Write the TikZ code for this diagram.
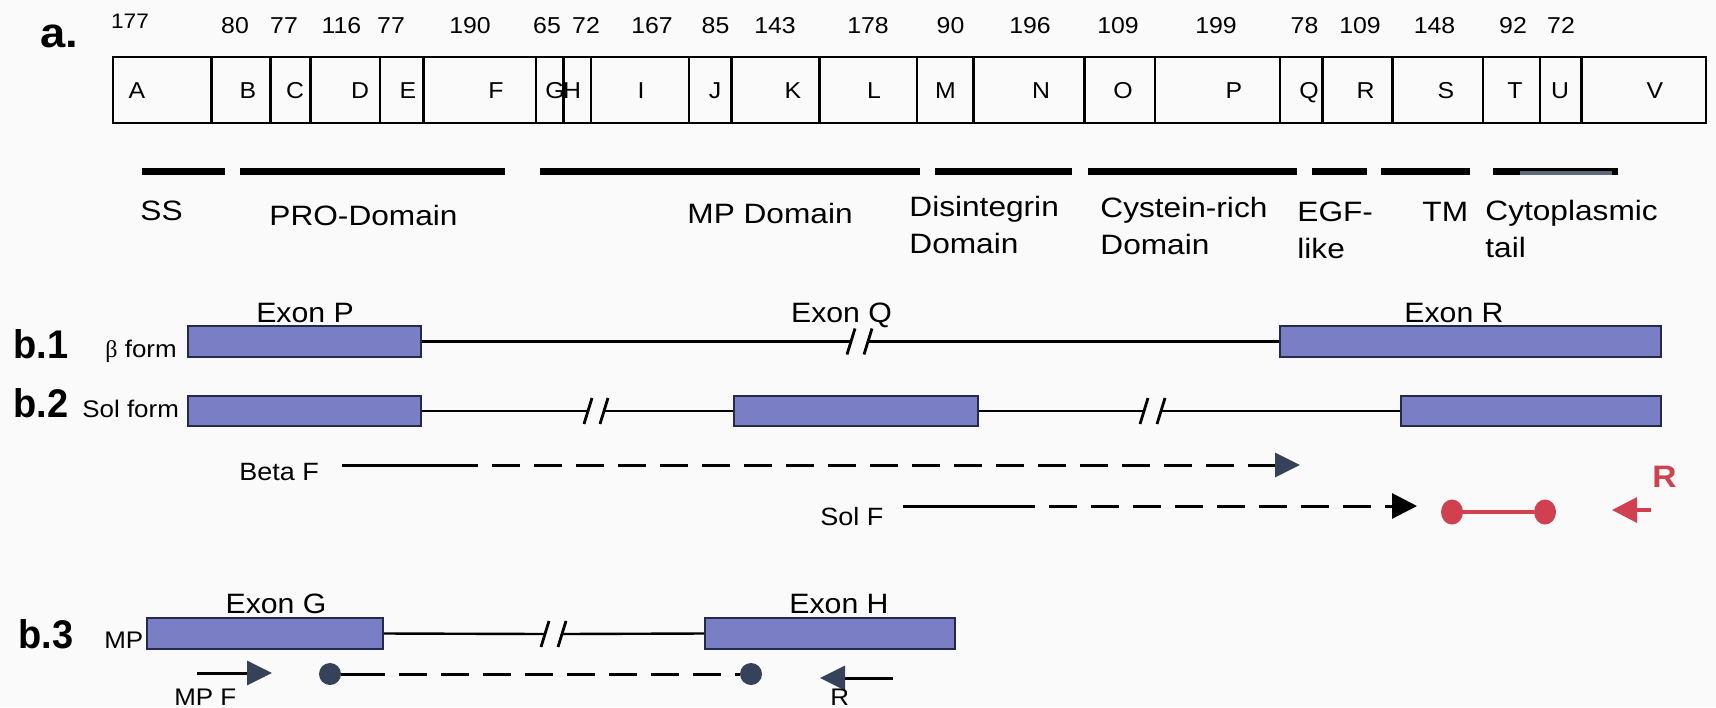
\documentclass[tikz,border=0pt]{standalone}
\usepackage{fontspec}
\setmainfont{Liberation Sans}[FakeStretch=1.08]
\newfontfamily\domfont{Liberation Sans}[FakeStretch=1.13]
\newfontfamily\panelfont{Liberation Sans}[FakeStretch=0.95]
\newfontfamily\greekfont{Liberation Serif}
\usetikzlibrary{arrows.meta,shapes.geometric}
\definecolor{exonfill}{HTML}{7A7EC4}
\definecolor{exonedge}{HTML}{262A4A}
\definecolor{slate}{HTML}{36425A}
\definecolor{probered}{HTML}{D0404E}
\definecolor{bg}{HTML}{FAFAFA}
\begin{document}
\begin{tikzpicture}[x=0.5pt,y=-0.5pt,
  num/.style={font=\fontsize{11.5}{13}\selectfont,anchor=base,inner sep=0pt},
  seg/.style={font=\fontsize{11.5}{13}\selectfont,anchor=base,inner sep=0pt},
  dombar/.style={line width=3.5pt},
  domlab/.style={font=\domfont\fontsize{14}{18.5}\selectfont,align=left,anchor=north west,inner sep=0pt},
  panel/.style={font=\panelfont\bfseries\fontsize{20}{24}\selectfont,anchor=base west,inner sep=0pt},
  formlab/.style={font=\fontsize{12}{14}\selectfont,anchor=base west,inner sep=0pt},
  exonlab/.style={font=\fontsize{14}{16}\selectfont,anchor=base,inner sep=0pt},
  exon/.style={draw=exonedge,fill=exonfill,line width=1pt,rectangle,inner sep=0pt},
  intron/.style={line width=1.2pt},
  brk/.style={line width=1.4pt},
  primer/.style={line width=1.5pt},
  dsh/.style={primer,dash pattern=on 14pt off 7pt},
  slatetip/.style={-{Triangle[length=12.5pt,width=12pt,color=slate]}},
  blacktip/.style={-{Triangle[length=12.5pt,width=12.5pt]}},
  ball/.style={circle,fill=slate,minimum size=11pt,inner sep=0pt},
  redball/.style={ellipse,fill=probered,minimum width=11pt,minimum height=12.5pt,inner sep=0pt}
]
\fill[bg] (0,0) rectangle (1716,707);
\useasboundingbox (0,0) rectangle (1716,707);

% ---------- panel a ----------
\node[anchor=base west,inner sep=0pt,font=\bfseries\fontsize{21}{24}\selectfont] (pa) at (40,47) {a.};

\node[num,font=\fontsize{10.5}{12}\selectfont] (n1) at (130,28) {177};
\foreach \x/\t [count=\i from 2] in {235/80,284/77,341.5/116,391/77,470/190,547/65,586/72,652/167,715.5/85,775/143,868/178,950.5/90,1030/196,1118/109,1216/199,1304.5/78,1360/109,1434.5/148,1513/92,1561/72}
  \node[num] (n\i) at (\x,33) {\t};

\draw[line width=1.35pt] (113,57) rectangle (1706,123);
\foreach \x in {211.6,270.2,310.7,380,423.6,535.8,563.3,591,689,731.2,819.2,916.8,973.4,1084.4,1155,1280,1322.6,1392.6,1482.8,1539.9,1581.4}
  \draw[line width=1.3pt] (\x,57) -- (\x,123);
\foreach \x/\t in {137/A,248/B,295/C,360/D,408/E,496/F,555/G,572/H,641/I,715/J,793/K,874/L,945.5/M,1041/N,1123/O,1234/P,1309/Q,1365.5/R,1446/S,1515/T,1560/U,1655/V}
  \node[seg] (s\t) at (\x,98) {\t};

% domain bars
\draw[dombar] (141.5,171.5) -- (225,171.5);
\draw[dombar] (240,171.5) -- (505,171.5);
\draw[dombar] (540,171.5) -- (920,171.5);
\draw[dombar] (935,171.5) -- (1072,171.5);
\draw[dombar] (1088,171.5) -- (1297,171.5);
\draw[dombar] (1312,171.5) -- (1367,171.5);
\draw[dombar] (1381,171.5) -- (1470,171.5);
\draw[dombar] (1493,171.5) -- (1618,171.5);
\draw[line width=2pt,color=slate!80] (1520,173) -- (1612,173);

\node[domlab] (dSS) at (140,201) {SS};
\node[domlab] (dPRO) at (269,205) {PRO-Domain};
\node[domlab] (dMP) at (687,203) {MP Domain};
\node[domlab] (dDis) at (909,196) {Disintegrin\\Domain};
\node[domlab] (dCys) at (1100,197) {Cystein-rich\\Domain};
\node[domlab] (dEGF) at (1297,202) {EGF-\\like};
\node[domlab] (dTM) at (1422,202) {TM};
\node[domlab] (dCyt) at (1485,200) {Cytoplasmic\\tail};

% ---------- panel b.1 ----------
\node[panel] (pb1) at (13,358) {b.1};
\node[formlab] (f1) at (105,357) {{\greekfont β} form};
\node[exon,minimum width=116.5pt,minimum height=15.5pt] (P1) at (304.5,341.5) {};
\node[exon,minimum width=190.5pt,minimum height=15.5pt] (R1) at (1470.5,341.5) {};
\node[exonlab] (lP) at (305,322) {Exon P};
\node[exonlab] (lQ) at (841.5,322) {Exon Q};
\node[exonlab] (lR) at (1454,322) {Exon R};
\coordinate (b1a) at (851,341.5);
\coordinate (b1b) at (868,341.5);
\draw[intron] (P1.east) -- (b1a);
\draw[intron] (b1b) -- (R1.west);
\draw[brk] ([shift={(-4,13)}]b1a) -- ([shift={(4,-13)}]b1a);
\draw[brk] ([shift={(-4,13)}]b1b) -- ([shift={(4,-13)}]b1b);

% ---------- panel b.2 ----------
\node[panel] (pb2) at (13,417) {b.2};
\node[formlab] (f2) at (82,417) {Sol form};
\node[exon,minimum width=116.5pt,minimum height=15pt] (P2) at (304.5,411) {};
\node[exon,minimum width=122pt,minimum height=15pt] (Q2) at (856,411) {};
\node[exon,minimum width=130pt,minimum height=15pt] (R2) at (1531,411) {};
\coordinate (b2a) at (588,411);
\coordinate (b2b) at (604,411);
\coordinate (b2c) at (1144,411);
\coordinate (b2d) at (1161,411);
\draw[intron] (P2.east) -- (b2a);
\draw[intron] (b2b) -- (Q2.west);
\draw[intron] (Q2.east) -- (b2c);
\draw[intron] (b2d) -- (R2.west);
\foreach \c in {b2a,b2b,b2c,b2d}
  \draw[brk] ([shift={(-4,13)}]\c) -- ([shift={(4,-13)}]\c);

% primers
\node[formlab,font=\fontsize{12.5}{14}\selectfont] (bF) at (239,480) {Beta F};
\coordinate (bF0) at (342,465);
\coordinate (bF1) at (450,465);
\coordinate (bF2) at (1300,465);
\draw[primer] (bF0) -- (bF1);
\draw[dsh,slatetip] (bF1) -- (bF2);

\node[formlab,font=\fontsize{12.5}{14}\selectfont] (sF) at (820,525) {Sol F};
\coordinate (sF0) at (903,506);
\coordinate (sF1) at (1007,506);
\coordinate (sF2) at (1417,506);
\draw[primer] (sF0) -- (sF1);
\draw[dsh,blacktip] (sF1) -- (sF2);

\node[redball] (rb1) at (1452,512) {};
\node[redball] (rb2) at (1545,512) {};
\draw[line width=1.6pt,color=probered] (rb1) -- (rb2);
\coordinate (ra0) at (1651,510);
\coordinate (ra1) at (1612,510);
\draw[line width=1.6pt,color=probered,-{Triangle[length=12.5pt,width=12.5pt]}] (ra0) -- (ra1);
\node[anchor=base west,inner sep=0pt,text=probered,font=\bfseries\fontsize{15.5}{18}\selectfont] (rR) at (1652,487) {R};

% ---------- panel b.3 ----------
\node[panel] (pb3) at (18,648) {b.3};
\node[formlab] (f3) at (104,648) {MP};
\node[exon,minimum width=118pt,minimum height=15.5pt] (G3) at (265,633.5) {};
\node[exon,minimum width=125pt,minimum height=15.5pt] (H3) at (830,633.5) {};
\node[exonlab] (lG) at (276,613) {Exon G};
\node[exonlab] (lH) at (839,613) {Exon H};
\coordinate (b3a) at (545,634);
\coordinate (b3b) at (562,634);
\draw[intron] (G3.east) -- (b3a);
\draw[intron] (b3b) -- (H3.west);
\foreach \c in {b3a,b3b}
  \draw[brk] ([shift={(-4,13)}]\c) -- ([shift={(4,-13)}]\c);

\coordinate (mF0) at (197,673);
\coordinate (mF1) at (272,673);
\draw[primer,slatetip] (mF0) -- (mF1);
\node[formlab] (mF) at (174,705) {MP F};

\node[ball] (pc1) at (330,674) {};
\node[ball] (pc2) at (751,674) {};
\coordinate (pcm) at (357,674);
\draw[primer] (pc1) -- (pcm);
\draw[dsh] (pcm) -- (pc2);

\coordinate (r30) at (893,678);
\coordinate (r31) at (820,678);
\draw[primer,slatetip] (r30) -- (r31);
\node[formlab] (r3) at (830,705) {R};
\end{tikzpicture}
\end{document}
